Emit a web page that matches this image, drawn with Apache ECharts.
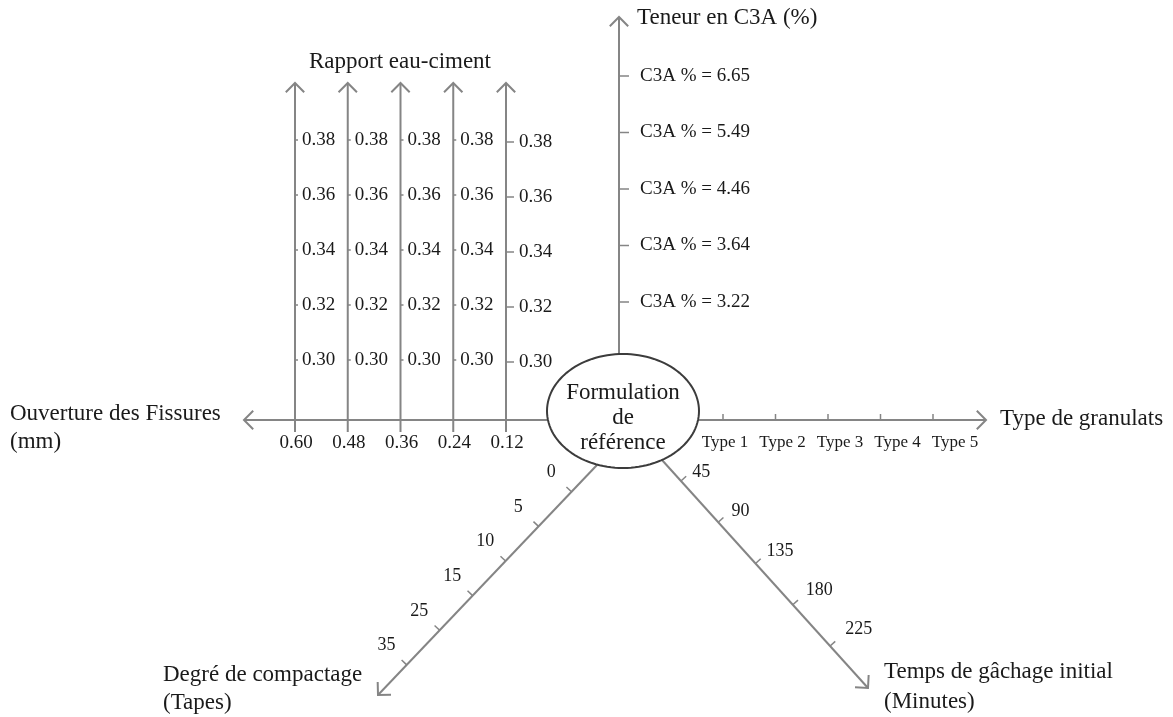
<!DOCTYPE html>
<html><head><meta charset="utf-8">
<script src="https://cdn.jsdelivr.net/npm/echarts@6/dist/echarts.min.js"></script>
<style>html,body{margin:0;padding:0;background:#fff}#c{width:1173px;height:717px}</style>
</head><body><div id="c"></div>
<script>
// ---------- DATA ----------
const rapportLabels = ['0.30', '0.32', '0.34', '0.36', '0.38'];
const fissureLabels = ['0.60', '0.48', '0.36', '0.24', '0.12'];
const c3aValues = ['3.22', '3.64', '4.46', '5.49', '6.65'];
const granulatLabels = ['Type 1', 'Type 2', 'Type 3', 'Type 4', 'Type 5'];
const compactageLabels = ['0', '5', '10', '15', '25', '35'];
const gachageLabels = ['45', '90', '135', '180', '225'];
const centerLines = ['Formulation', 'de', 'référence'];
const titleRapport = ['Rapport eau-ciment'];
const titleC3A = ['Teneur en C3A (%)'];
const titleFissure = ['Ouverture des Fissures', '(mm)'];
const titleGranulat = ['Type de granulats'];
const titleCompactage = ['Degré de compactage', '(Tapes)'];
const titleGachage = ['Temps de gâchage initial', '(Minutes)'];

// ---------- LAYOUT ----------
const L = {
  axisColor: '#858585', lw: 2, ellColor: '#3c3c3c', textColor: '#1a1a1a',
  font: '"Liberation Serif", "Times New Roman", serif',
  titleSize: 23, tickSize: 19, smallSize: 17, diagSize: 18,
  center: [623, 411], rx: 76, ry: 57,
  hY: 420, leftTip: 244, rightTip: 986,
  colX0: 295, colStep: 52.75, colBottom: 432, colTop: 83,
  rapY0: 360, rapStep: 55,
  c3aX: 619, c3aTip: 17, c3aY0: 302, c3aStep: 56.5,
  granTick0: 723, granTickStep: 52.5, granLbl0: 725, granLblStep: 57.5,
  compStart: [597, 465], compTip: [378, 695], compD0: 37, compStep: 47.8,
  compLbl: { along: 0, dist: 28, grow: 0 },
  gachStart: [662, 460], gachTip: [868, 688], gachD0: 28.3, gachStep: 55.6,
  gachLbl: { along: 7, dist: 21, grow: 2.8 }
};

function renderAll(params, api) {
  const ch = [];
  const P = (x, y) => api.coord([x, y]);
  const line = (x1, y1, x2, y2, color, w) => {
    const a = P(x1, y1), b = P(x2, y2);
    ch.push({ type: 'line', shape: { x1: a[0], y1: a[1], x2: b[0], y2: b[1] },
      style: { stroke: color || L.axisColor, lineWidth: w || L.lw } });
  };
  const chevron = (tx, ty, bx, by) => {
    const n = Math.hypot(bx, by); bx /= n; by /= n;
    const len = 13, th = Math.PI / 4;
    const r = s => [bx * Math.cos(s) - by * Math.sin(s), bx * Math.sin(s) + by * Math.cos(s)];
    const a = r(th), b = r(-th);
    const pts = [P(tx + a[0] * len, ty + a[1] * len), P(tx, ty), P(tx + b[0] * len, ty + b[1] * len)];
    ch.push({ type: 'polyline', shape: { points: pts }, style: { stroke: L.axisColor, lineWidth: L.lw, fill: null } });
  };
  const text = (x, y, s, size, align) => {
    const p = P(x, y);
    ch.push({ type: 'text', x: p[0], y: p[1], style: { text: s, fontSize: size, fontFamily: L.font,
      fill: L.textColor, align: align || 'left', verticalAlign: 'middle' } });
  };
  const [cx, cy] = L.center;
  const ellX = y => L.rx * Math.sqrt(1 - Math.pow((y - cy) / L.ry, 2));
  const ellY = x => L.ry * Math.sqrt(1 - Math.pow((x - cx) / L.rx, 2));

  // Horizontal axis (left: fissures, right: granulats)
  line(L.leftTip, L.hY, cx - ellX(L.hY), L.hY);
  chevron(L.leftTip, L.hY, 1, 0);
  line(cx + ellX(L.hY), L.hY, L.rightTip, L.hY);
  chevron(L.rightTip, L.hY, -1, 0);

  // Rapport eau-ciment columns, positioned along the fissure axis
  fissureLabels.forEach((lab, i) => {
    const x = L.colX0 + i * L.colStep;
    line(x, L.colBottom, x, L.colTop);
    chevron(x, L.colTop, 0, 1);
    text(x + 1, 443, lab, L.tickSize, 'center');
    const last = i === fissureLabels.length - 1;
    rapportLabels.forEach((r, j) => {
      const y = L.rapY0 - j * L.rapStep + (last ? 2 : 0);
      line(x, y, x + (last ? 8 : 3), y, L.axisColor, 1.5);
      text(x + (last ? 13 : 7), y, r, L.tickSize, 'left');
    });
  });
  text(400, 62, titleRapport[0], L.titleSize, 'center');

  // Granulats ticks and labels
  granulatLabels.forEach((g, i) => {
    const x = L.granTick0 + i * L.granTickStep;
    line(x, L.hY, x, L.hY - 6, L.axisColor, 1.5);
    text(L.granLbl0 + i * L.granLblStep, 443, g, L.smallSize, 'center');
  });
  text(1000, 419, titleGranulat[0], L.titleSize, 'left');
  text(10, 414, titleFissure[0], L.titleSize, 'left');
  text(10, 442, titleFissure[1], L.titleSize, 'left');

  // C3A vertical axis
  line(L.c3aX, cy - ellY(L.c3aX), L.c3aX, L.c3aTip);
  chevron(L.c3aX, L.c3aTip, 0, 1);
  c3aValues.forEach((v, i) => {
    const y = L.c3aY0 - i * L.c3aStep;
    line(L.c3aX, y, L.c3aX + 10, y, L.axisColor, 1.5);
    text(L.c3aX + 21, y, 'C3A % = ' + v, L.tickSize, 'left');
  });
  text(637, 18, titleC3A[0], L.titleSize, 'left');

  // Diagonal axes
  const diag = (start, tip, labels, d0, step, side, lbl) => {
    const dx = tip[0] - start[0], dy = tip[1] - start[1], n = Math.hypot(dx, dy);
    const ux = dx / n, uy = dy / n;
    const px = side * -uy, py = side * ux;
    line(start[0], start[1], tip[0], tip[1]);
    chevron(tip[0], tip[1], -ux, -uy);
    labels.forEach((lab, i) => {
      const d = d0 + i * step;
      const tx = start[0] + ux * d, ty = start[1] + uy * d;
      line(tx, ty, tx + px * 7, ty + py * 7, L.axisColor, 1.5);
      const ld = lbl.dist + i * lbl.grow;
      text(tx + px * ld + ux * lbl.along, ty + py * ld + uy * lbl.along, lab, L.diagSize, 'center');
    });
  };
  diag(L.compStart, L.compTip, compactageLabels, L.compD0, L.compStep, 1, L.compLbl);
  diag(L.gachStart, L.gachTip, gachageLabels, L.gachD0, L.gachStep, -1, L.gachLbl);
  text(163, 675, titleCompactage[0], L.titleSize, 'left');
  text(163, 703, titleCompactage[1], L.titleSize, 'left');
  text(884, 672, titleGachage[0], L.titleSize, 'left');
  text(884, 702, titleGachage[1], L.titleSize, 'left');

  // Central ellipse
  const pts = [];
  for (let k = 0; k < 120; k++) {
    const a = k / 120 * Math.PI * 2;
    pts.push(P(cx + L.rx * Math.cos(a), cy + L.ry * Math.sin(a)));
  }
  ch.push({ type: 'polygon', shape: { points: pts }, style: { stroke: L.ellColor, lineWidth: 2, fill: '#fff' } });
  centerLines.forEach((s, i) => text(cx, 393 + i * 25, s, L.titleSize, 'center'));

  return { type: 'group', children: ch };
}

const chart = echarts.init(document.getElementById('c'));
chart.setOption({
  animation: false,
  backgroundColor: '#fff',
  grid: { left: 0, right: 0, top: 0, bottom: 0 },
  xAxis: { type: 'value', min: 0, max: 1173, show: false },
  yAxis: { type: 'value', min: 0, max: 717, inverse: true, show: false },
  series: [{ type: 'custom', renderItem: renderAll, data: [[0, 0]], clip: false, silent: true }]
});
</script>
</body></html>
